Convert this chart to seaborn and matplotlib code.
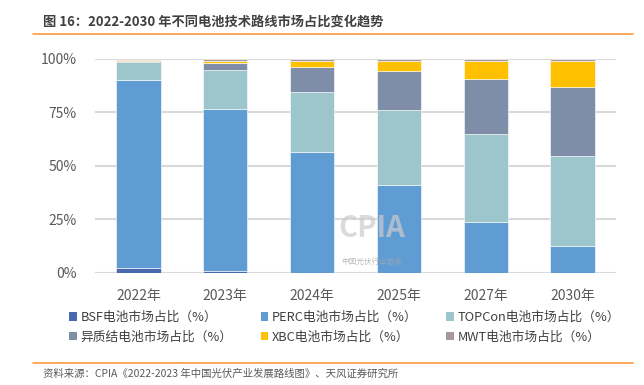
import numpy as np
import pandas as pd
import matplotlib
matplotlib.use("Agg")
import matplotlib.pyplot as plt
from matplotlib.lines import Line2D
from matplotlib.patches import Patch
import seaborn as sns

# ---- data ----
years = ["2022年", "2023年", "2024年", "2025年", "2027年", "2030年"]
series_names = ["BSF电池市场占比（%）", "PERC电池市场占比（%）", "TOPCon电池市场占比（%）",
                "异质结电池市场占比（%）", "XBC电池市场占比（%）", "MWT电池市场占比（%）"]
bsf = [2.2, 0.6, 0.0, 0.0, 0.0, 0.0]
perc = [88.0, 76.2, 56.6, 40.9, 23.8, 12.5]
topcon = [8.3, 18.1, 28.0, 35.3, 40.9, 42.3]
hjt = [0.6, 3.1, 11.8, 18.0, 25.9, 32.1]
xbc = [0.3, 1.2, 2.8, 5.0, 8.6, 12.3]
mwt = [0.6, 0.8, 0.8, 0.8, 0.8, 0.8]
y_ticks = [0, 25, 50, 75, 100]
y_tick_labels = ["0%", "25%", "50%", "75%", "100%"]

colors = ["#4A68B0", "#5F9CD3", "#9DC6CC", "#7E8DA8", "#FFC000", "#A89A98"]

sns.set_theme(style="white")
plt.rcParams["font.family"] = ["Noto Sans CJK SC", "DejaVu Sans"]

fig = plt.figure(figsize=(6.44, 3.85), dpi=100)
ax = fig.add_axes([95/644, 1-272.7/385, (616-95)/644, (272.7-59)/385])

all_series = [bsf, perc, topcon, hjt, xbc, mwt]
bottom = np.zeros(len(years))
for name, vals, col in zip(series_names, all_series, colors):
    df = pd.DataFrame({"year": years, "val": vals})
    sns.barplot(data=df, x="year", y="val", bottom=bottom, color=col, width=0.51,
                ax=ax, saturation=1, edgecolor="white", linewidth=0.4, zorder=3)
    bottom = bottom + np.array(vals)

ax.set_ylim(0, 100)
ax.set_xlim(-0.5, len(years) - 0.5)
ax.set_yticks(y_ticks)
ax.set_yticklabels(y_tick_labels)
ax.yaxis.grid(True, color="#D9D9D9", linewidth=1.5, zorder=0)
ax.set_axisbelow(True)
for s in ax.spines.values():
    s.set_visible(False)
ax.set_xlabel("")
ax.set_ylabel("")
ax.tick_params(axis="y", labelsize=10, colors="#595959", pad=13, length=0)
ax.tick_params(axis="x", labelsize=10, colors="#595959", pad=12, length=0)

# watermark
fig.text(372/644, 1-228/385, "CPIA", fontsize=21, fontweight="bold", color="#CCCCCC",
         alpha=0.7, ha="center", va="center", zorder=5)
fig.text(372/644, 1-262/385, "中国光伏行业协会", fontsize=5.5, color="#AAAAAA",
         alpha=0.8, ha="center", va="center", zorder=5)

# legend (row-wise order)
handles = [Patch(facecolor=c, edgecolor="none") for c in colors]
order = [0, 3, 1, 4, 2, 5]
leg = fig.legend([handles[i] for i in order], [series_names[i] for i in order],
                 ncol=3, loc="upper left", bbox_to_anchor=(69/644, 1-311/385),
                 frameon=False, fontsize=9.2, handlelength=0.6, handleheight=0.6,
                 handletextpad=0.3, columnspacing=2.2, labelspacing=0.5,
                 borderaxespad=0, borderpad=0)
for t in leg.get_texts():
    t.set_color("#404040")

# title and footer
fig.text(43/644, 1-22/385, "图 16：2022-2030 年不同电池技术路线市场占比变化趋势",
         fontsize=9.5, fontweight="bold", color="#404040", ha="left", va="center")
fig.add_artist(Line2D([33/644, 633/644], [1-34/385, 1-34/385], color="#F79A3E", linewidth=1.2))
fig.add_artist(Line2D([33/644, 633/644], [1-363/385, 1-363/385], color="#F79A3E", linewidth=1.2))
fig.text(43/644, 1-374/385, "资料来源：CPIA《2022-2023 年中国光伏产业发展路线图》、天风证券研究所",
         fontsize=7.5, color="#595959", ha="left", va="center")

fig.savefig("out.png", dpi=100, facecolor="white")
